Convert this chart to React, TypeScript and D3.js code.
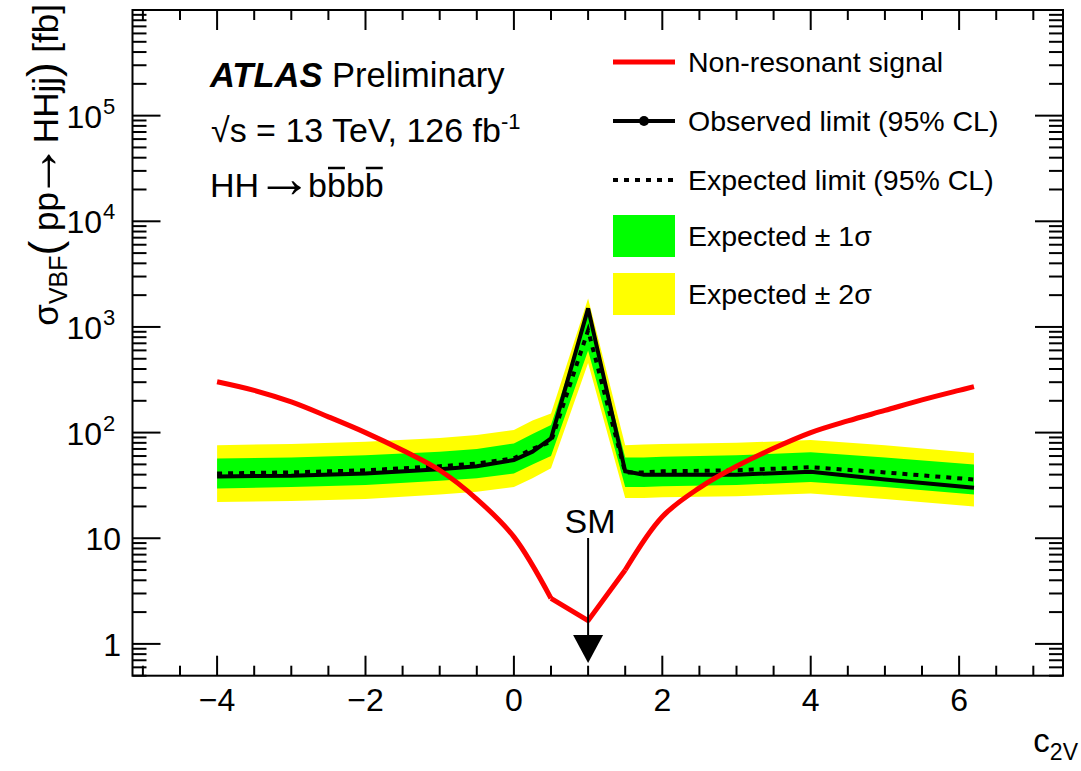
import React, { useRef, useLayoutEffect, useState } from 'react';
import * as d3 from 'd3';

const W = 1081;
const H = 771;

// c2V grid for limits
const c2v = [-4, -3, -2, -1, -0.5, 0, 0.25, 0.5, 1, 1.5, 1.75, 2, 3, 4, 5, 6.2];
const observed = [38.5, 39, 41, 45, 48, 55, 66, 88, 1500, 43, 40, 40, 40, 42.5, 36, 30];
const expected = [41, 42, 44, 48, 51, 57, 70, 82, 930, 42, 42, 43, 44, 47, 42, 36];
const plus1 = [57, 58, 61, 66, 70, 79, 97, 118, 1340, 58, 58, 59, 61, 65, 58, 50];
const minus1 = [29.5, 30.5, 32, 35, 37, 41, 50, 60, 600, 30.5, 30.5, 31, 32, 34, 30.5, 26];
const plus2 = [76, 78, 82, 89, 95, 106, 130, 152, 1860, 76, 77, 78, 80, 85, 76, 64];
const minus2 = [22, 22.5, 23.5, 26, 27.5, 30.5, 37, 46, 455, 24, 24, 24.5, 25, 26.5, 23.5, 20];

// non-resonant signal cross-section
const sigX = [-4, -3.5, -3, -2.5, -2, -1.5, -1, -0.5, 0, 0.5, 1, 1.5, 2, 2.5, 3, 3.5, 4, 4.5, 5, 5.5, 6, 6.2];
const sigY = [303, 251, 195, 141, 100, 68, 44, 23.5, 10.3, 2.7, 1.66, 5.0, 16, 30, 48, 71, 100, 129, 162, 204, 251, 272];

const xMajor = [-4, -2, 0, 2, 4, 6];
const xMajorLabels = ['\u22124', '\u22122', '0', '2', '4', '6'];
const yMajor = [1, 10, 100, 1000, 10000, 100000];
const yMajorExp = ['', '', '2', '3', '4', '5'];
const yMajorBase = ['1', '10', '10', '10', '10', '10'];

const legendLabels = [
  'Non-resonant signal',
  'Observed limit (95% CL)',
  'Expected limit (95% CL)',
];

const FONT = '"Liberation Sans", Arial, Helvetica, sans-serif';

export default function App() {
  const left = 132.5, right = 1063, top = 10, bottom = 675.7;
  const x = d3.scaleLinear().domain([-5.14, 7.4]).range([left, right]);
  const y = d3.scaleLog().domain([0.5, 1e6]).range([bottom, top]);

  const band = (lo: number[], hi: number[]) =>
    d3.area<number>()
      .x((d) => x(d))
      .y0((_, i) => y(lo[i]))
      .y1((_, i) => y(hi[i]))(c2v) || '';
  const lim = (vals: number[]) =>
    d3.line<number>().x((d) => x(d)).y((_, i) => y(vals[i]))(c2v) || '';

  // signal: smooth away from the SM point, straight segments around it
  const sigPts = sigX.map((v, i) => [v, sigY[i]] as [number, number]);
  const smooth = d3.line<[number, number]>().x((d) => x(d[0])).y((d) => y(d[1])).curve(d3.curveCatmullRom.alpha(0.5));
  const straight = d3.line<[number, number]>().x((d) => x(d[0])).y((d) => y(d[1]));
  const sigLeft = smooth(sigPts.filter((d) => d[0] <= 0.5)) || '';
  const sigMid = straight(sigPts.filter((d) => d[0] >= 0.5 && d[0] <= 1.5)) || '';
  const sigRight = smooth(sigPts.filter((d) => d[0] >= 1.5)) || '';

  const xMinor: number[] = [];
  for (let v = -5; v <= 7.001; v += 0.5) if (!xMajor.includes(v)) xMinor.push(v);
  const yMinor: number[] = [];
  [0.1, 1, 10, 100, 1000, 10000, 100000].forEach((dec) => {
    for (let k = 2; k <= 9; k++) {
      const v = k * dec;
      if (v >= 0.5 && v < 1e6) yMinor.push(v);
    }
  });

  const hhRef = useRef<SVGTextElement>(null);
  const [bars, setBars] = useState<{ x1: number; x2: number; y: number }[]>([]);
  useLayoutEffect(() => {
    const el = hhRef.current;
    if (!el) return;
    const txt = el.textContent || '';
    const out: { x1: number; x2: number; y: number }[] = [];
    const idx: number[] = [];
    for (let i = 0; i < txt.length; i++) if (txt[i] === 'b') idx.push(i);
    [idx[1], idx[3]].forEach((i) => {
      if (i === undefined) return;
      const e = el.getExtentOfChar(i);
      out.push({ x1: e.x + 1, x2: e.x + e.width - 1, y: e.y + 2 });
    });
    setBars(out);
  }, []);

  const lx1 = 613, lx2 = 675, ltx = 688;
  const legY = [62, 121, 180, 236, 294];

  return (
    <svg width={W} height={H} style={{ position: 'absolute', left: 0, top: 0, background: '#fff' }} fontFamily={FONT}>
      <rect x={0} y={0} width={W} height={H} fill="#fff" />
      <path d={band(minus2, plus2)} fill="#ffff00" />
      <path d={band(minus1, plus1)} fill="#00ff00" />
      <path d={lim(expected)} fill="none" stroke="#000" strokeWidth={4} strokeDasharray="5 6" />
      <path d={lim(observed)} fill="none" stroke="#000" strokeWidth={4} strokeLinejoin="miter" />
      <path d={sigLeft} fill="none" stroke="#ff0000" strokeWidth={5} strokeLinejoin="round" />
      <path d={sigMid} fill="none" stroke="#ff0000" strokeWidth={5} strokeLinejoin="round" />
      <path d={sigRight} fill="none" stroke="#ff0000" strokeWidth={5} strokeLinejoin="round" />

      {/* SM arrow */}
      <line x1={x(1)} x2={x(1)} y1={538} y2={640} stroke="#000" strokeWidth={2} />
      <path d={`M${x(1) - 15},635 L${x(1) + 15},635 L${x(1)},663 Z`} fill="#000" />
      <text x={x(1) + 2} y={533} fontSize={34} textAnchor="middle">SM</text>

      {/* frame */}
      <rect x={left} y={top} width={right - left} height={bottom - top} fill="none" stroke="#000" strokeWidth={2} />
      {/* x ticks */}
      {xMajor.map((v) => (
        <g key={'xM' + v}>
          <line x1={x(v)} x2={x(v)} y1={bottom} y2={bottom - 20} stroke="#000" strokeWidth={2} />
          <line x1={x(v)} x2={x(v)} y1={top} y2={top + 20} stroke="#000" strokeWidth={2} />
        </g>
      ))}
      {xMinor.map((v) => (
        <g key={'xm' + v}>
          <line x1={x(v)} x2={x(v)} y1={bottom} y2={bottom - 10} stroke="#000" strokeWidth={2} />
          <line x1={x(v)} x2={x(v)} y1={top} y2={top + 10} stroke="#000" strokeWidth={2} />
        </g>
      ))}
      {xMajor.map((v, i) => (
        <text key={'xl' + v} x={x(v)} y={711} fontSize={32} textAnchor="middle">{xMajorLabels[i]}</text>
      ))}
      {/* y ticks */}
      {yMajor.map((v) => (
        <g key={'yM' + v}>
          <line x1={left} x2={left + 28} y1={y(v)} y2={y(v)} stroke="#000" strokeWidth={2} />
          <line x1={right} x2={right - 28} y1={y(v)} y2={y(v)} stroke="#000" strokeWidth={2} />
        </g>
      ))}
      {yMinor.map((v) => (
        <g key={'ym' + v}>
          <line x1={left} x2={left + 14} y1={y(v)} y2={y(v)} stroke="#000" strokeWidth={2} />
          <line x1={right} x2={right - 14} y1={y(v)} y2={y(v)} stroke="#000" strokeWidth={2} />
        </g>
      ))}
      {yMajor.map((v, i) => (
        <text key={'yl' + v} x={yMajorExp[i] ? 102 : 121} y={y(v) + 12} fontSize={32} textAnchor="end">
          {yMajorBase[i]}
        </text>
      ))}
      {yMajor.map((v, i) =>
        yMajorExp[i] ? (
          <text key={'ye' + v} x={103} y={y(v) - 2} fontSize={22} textAnchor="start">{yMajorExp[i]}</text>
        ) : null
      )}

      {/* axis titles */}
      <text transform="translate(58,4) rotate(-90)" fontSize={35} textAnchor="end">
        <tspan>σ</tspan>
        <tspan fontSize={25} dy={9}>VBF</tspan>
        <tspan fontSize={44} dy={-7}>(</tspan>
        <tspan fontSize={35} dy={-2}> pp</tspan>
        <tspan fontSize={56} dx={-7}>→</tspan>
        <tspan fontSize={35}>HHjj</tspan>
        <tspan fontSize={44}>)</tspan>
        <tspan fontSize={35}> [fb]</tspan>
      </text>
      <text x={1078} y={752} fontSize={33} textAnchor="end">
        <tspan>c</tspan>
        <tspan fontSize={23} dy={8}>2V</tspan>
      </text>

      {/* ATLAS label */}
      <text x={210} y={87} fontSize={34.5}>
        <tspan fontWeight="bold" fontStyle="italic">ATLAS</tspan>
        <tspan> Preliminary</tspan>
      </text>
      <text x={211} y={142} fontSize={34}>
        <tspan>√s = 13 TeV, 126 fb</tspan>
        <tspan fontSize={22} dy={-13}>-1</tspan>
      </text>
      <text ref={hhRef} x={210} y={197} fontSize={34}>
        <tspan>HH</tspan>
        <tspan fontSize={56} dx={-3}>→</tspan>
        <tspan dx={-4}>bbbb</tspan>
      </text>
      {bars.map((b, i) => (
        <line key={'ob' + i} x1={b.x1} x2={b.x2} y1={b.y} y2={b.y} stroke="#000" strokeWidth={2.5} />
      ))}

      {/* legend */}
      <line x1={lx1} x2={lx2} y1={legY[0]} y2={legY[0]} stroke="#ff0000" strokeWidth={5} />
      <line x1={lx1} x2={lx2} y1={legY[1]} y2={legY[1]} stroke="#000" strokeWidth={4} />
      <circle cx={(lx1 + lx2) / 2} cy={legY[1]} r={5} fill="#000" />
      <line x1={lx1} x2={lx2} y1={legY[2]} y2={legY[2]} stroke="#000" strokeWidth={4} strokeDasharray="5 6" />
      <rect x={lx1} y={legY[3] - 21} width={lx2 - lx1} height={42} fill="#00ff00" />
      <rect x={lx1} y={legY[4] - 21} width={lx2 - lx1} height={42} fill="#ffff00" />
      {legendLabels.map((t, i) => (
        <text key={'lg' + i} x={ltx} y={legY[i] + 10} fontSize={28.5}>{t}</text>
      ))}
      <text x={ltx} y={legY[3] + 10} fontSize={28.5}>Expected ± 1σ</text>
      <text x={ltx} y={legY[4] + 10} fontSize={28.5}>Expected ± 2σ</text>
    </svg>
  );
}
